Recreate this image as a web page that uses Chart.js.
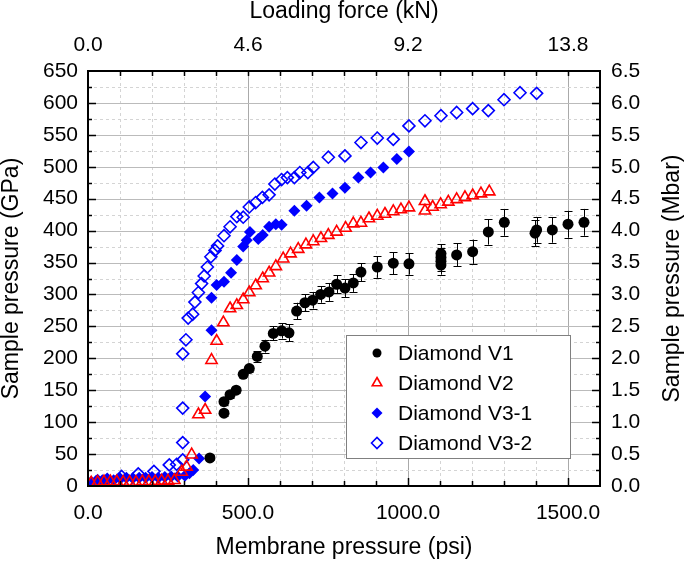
<!DOCTYPE html>
<html>
<head>
<meta charset="utf-8">
<script src="https://cdn.jsdelivr.net/npm/chart.js@4.4.0/dist/chart.umd.min.js"></script>
<style>
  html, body { margin: 0; padding: 0; background: #fff; }
  #wrap { width: 685px; height: 561px; }
</style>
</head>
<body>
<div id="wrap"><canvas id="pressureChart" width="685" height="561"></canvas></div>
<script>
const FONT = '"Liberation Sans", Arial, Helvetica, sans-serif';

// Diamond V1 (black circles, error bars)
let v1Psi = [381, 425, 425, 444, 463, 485, 504, 529, 553, 579, 605, 628, 652, 678, 702, 727, 753, 777, 803, 829, 853, 904, 954, 1003, 1103, 1103, 1103, 1103, 1152, 1202, 1251, 1301, 1397, 1402, 1451, 1500, 1550];
let v1Gpa = [44, 114, 132, 143, 150, 175, 184, 203, 219, 239, 243, 240, 274, 287, 291, 300, 304, 316, 310, 318, 335, 343, 349, 348, 346, 352, 358, 364, 362, 367, 398, 413, 396, 401, 401, 410, 413];
let v1Err = [4, 5, 5, 5, 5, 5, 6, 8, 10, 11, 12, 13, 13, 13, 13, 13, 14, 14, 14, 14, 14, 17, 17, 17, 15, 15, 15, 15, 18, 19, 20, 21, 20, 20, 20, 21, 21];

// Diamond V2 (red open triangles)
let v2Psi = [10, 30, 50, 70, 90, 110, 130, 150, 170, 190, 210, 230, 250, 270, 293, 308, 324, 345, 366, 386, 402, 423, 444, 465, 485, 504, 524, 546, 566, 587, 610, 633, 657, 681, 704, 728, 751, 777, 805, 829, 853, 878, 904, 928, 954, 978, 1003, 1053, 1053, 1077, 1102, 1126, 1152, 1178, 1202, 1228, 1254];
let v2Gpa = [5, 6, 7, 7, 7, 6, 6, 6, 7, 7, 7, 8, 8, 9, 22, 30, 49, 112, 119, 197, 227, 256, 278, 283, 292, 303, 314, 325, 334, 344, 356, 364, 371, 378, 383, 388, 393, 398, 404, 411, 412, 419, 423, 426, 430, 433, 436, 446, 431, 437, 441, 445, 449, 452, 455, 458, 461];

// Diamond V3-1 (blue filled diamonds)
let v31Psi = [10, 25, 45, 60, 80, 100, 120, 140, 160, 180, 200, 220, 240, 260, 280, 303, 317, 329, 347, 366, 386, 386, 402, 425, 447, 465, 485, 496, 506, 532, 546, 566, 587, 605, 645, 683, 723, 764, 803, 845, 883, 923, 965, 1003];
let v31Gpa = [5, 8, 9, 10, 9, 12, 13, 12, 13, 13, 14, 13, 14, 15, 15, 16, 20, 25, 43, 140, 244, 295, 315, 320, 334, 354, 375, 385, 398, 387, 393, 406, 410, 409, 431, 439, 452, 458, 467, 483, 491, 499, 512, 524];

// Diamond V3-2 (blue open diamonds)
let v32Psi = [10, 30, 60, 105, 157, 206, 254, 277, 296, 296, 296, 296, 306, 313, 327, 334, 345, 355, 363, 373, 384, 397, 405, 425, 444, 465, 485, 504, 524, 545, 566, 584, 605, 623, 645, 662, 687, 704, 751, 803, 853, 904, 954, 1003, 1053, 1103, 1152, 1202, 1251, 1300, 1350, 1402];
let v32Gpa = [5, 8, 10, 15, 19, 23, 33, 34, 41, 68, 122, 207, 229, 263, 269, 288, 303, 317, 329, 343, 359, 369, 376, 392, 406, 422, 421, 437, 444, 452, 456, 473, 480, 483, 483, 491, 491, 499, 515, 517, 538, 545, 543, 564, 572, 580, 585, 591, 588, 605, 616, 615];

// axis tick labels
let psiTicks = [0, 500, 1000, 1500];
let knTicks = [0, 4.6, 9.2, 13.8];
let gpaTicks = [0, 50, 100, 150, 200, 250, 300, 350, 400, 450, 500, 550, 600, 650];
let mbarTicks = [0, 0.5, 1, 1.5, 2, 2.5, 3, 3.5, 4, 4.5, 5, 5.5, 6, 6.5];

const PSI_MAX = 1600;
const GPA_MAX = 650;

function toPoints(xs, ys) {
    return xs.map((x, i) => ({ x: x, y: ys[i] }));
}

function setTicks(list) {
    return function (scale) {
        scale.ticks = list.map(v => ({ value: v }));
    };
}

// grid lines behind the data: dashed every 100 psi / 25 GPa, solid every 500 psi / 50 GPa
const gridPlugin = {
    id: 'gridLines',
    beforeDatasetsDraw(chart) {
        const { ctx, chartArea: a, scales } = chart;
        const sx = scales.x, sy = scales.y;
        ctx.save();
        ctx.lineWidth = 1;
        for (let v = 100; v < PSI_MAX; v += 100) {
            const px = Math.round(sx.getPixelForValue(v)) + 0.5;
            const major = v % 500 === 0;
            ctx.strokeStyle = major ? '#aaaaaa' : '#d4d4d4';
            ctx.setLineDash(major ? [] : [3, 3]);
            ctx.beginPath(); ctx.moveTo(px, a.top); ctx.lineTo(px, a.bottom); ctx.stroke();
        }
        for (let v = 25; v < GPA_MAX; v += 25) {
            const py = Math.round(sy.getPixelForValue(v)) + 0.5;
            const major = v % 50 === 0;
            ctx.strokeStyle = major ? '#bbbbbb' : '#d4d4d4';
            ctx.setLineDash(major ? [] : [3, 3]);
            ctx.beginPath(); ctx.moveTo(a.left, py); ctx.lineTo(a.right, py); ctx.stroke();
        }
        ctx.setLineDash([]);

        // error bars for V1
        const meta = chart.getDatasetMeta(0);
        ctx.strokeStyle = '#000';
        ctx.lineWidth = 1;
        meta.data.forEach((pt, i) => {
            const e = v1Err[i];
            const top = sy.getPixelForValue(v1Gpa[i] + e);
            const bot = sy.getPixelForValue(v1Gpa[i] - e);
            const px = Math.round(pt.x) + 0.5;
            ctx.beginPath();
            ctx.moveTo(px, top); ctx.lineTo(px, bot);
            ctx.moveTo(px - 4, Math.round(top) + 0.5); ctx.lineTo(px + 4, Math.round(top) + 0.5);
            ctx.moveTo(px - 4, Math.round(bot) + 0.5); ctx.lineTo(px + 4, Math.round(bot) + 0.5);
            ctx.stroke();
        });
        ctx.restore();
    }
};

function drawMarker(ctx, style, x, y, r, color, filled) {
    ctx.beginPath();
    if (style === 'circle') {
        ctx.arc(x, y, r, 0, Math.PI * 2);
    } else if (style === 'triangle') {
        for (let k = 0; k < 3; k++) {
            const ang = k * 2 * Math.PI / 3;
            const px = x + Math.sin(ang) * r, py = y - Math.cos(ang) * r;
            if (k === 0) ctx.moveTo(px, py); else ctx.lineTo(px, py);
        }
        ctx.closePath();
    } else {
        ctx.moveTo(x - r, y); ctx.lineTo(x, y - r); ctx.lineTo(x + r, y); ctx.lineTo(x, y + r);
        ctx.closePath();
    }
    if (filled) { ctx.fillStyle = color; ctx.fill(); }
    else { ctx.fillStyle = '#fff'; ctx.fill(); ctx.lineWidth = 1.6; ctx.strokeStyle = color; ctx.stroke(); }
}

// frame, inward ticks, right title and the inset legend
const framePlugin = {
    id: 'frameAndLegend',
    afterDraw(chart) {
        const { ctx, chartArea: a, scales } = chart;
        const sx = scales.x, sy = scales.y, sr = scales.yRight;
        ctx.save();
        ctx.strokeStyle = '#000';
        ctx.lineWidth = 1.5;
        ctx.beginPath();
        for (let v = 100; v < PSI_MAX; v += 100) {
            const px = Math.round(sx.getPixelForValue(v)) + 0.5;
            const len = v % 500 === 0 ? 8 : 5;
            ctx.moveTo(px, a.bottom); ctx.lineTo(px, a.bottom - len);
            ctx.moveTo(px, a.top); ctx.lineTo(px, a.top + 5);
        }
        for (let v = 25; v < GPA_MAX; v += 25) {
            const py = Math.round(sy.getPixelForValue(v)) + 0.5;
            const len = v % 50 === 0 ? 8 : 4;
            ctx.moveTo(a.left, py); ctx.lineTo(a.left + len, py);
        }
        for (let v = 0.25; v < 6.5; v += 0.25) {
            const py = Math.round(sr.getPixelForValue(v)) + 0.5;
            const len = Math.abs(v * 2 - Math.round(v * 2)) < 1e-6 ? 8 : 4;
            ctx.moveTo(a.right, py); ctx.lineTo(a.right - len, py);
        }
        ctx.stroke();
        ctx.lineWidth = 2;
        ctx.strokeRect(a.left, a.top, a.right - a.left, a.bottom - a.top);

        // right axis title, reading upward like the left one
        ctx.fillStyle = '#000';
        ctx.font = '23px ' + FONT;
        ctx.textAlign = 'center';
        ctx.textBaseline = 'middle';
        ctx.translate(673, (a.top + a.bottom) / 2);
        ctx.rotate(-Math.PI / 2);
        ctx.fillText('Sample pressure (Mbar)', 0, 0);
        ctx.restore();

        // legend box inside the plot
        ctx.save();
        const bx = 346, by = 335, bw = 224, bh = 123;
        ctx.fillStyle = '#fff';
        ctx.fillRect(bx, by, bw, bh);
        ctx.strokeStyle = '#808080';
        ctx.lineWidth = 1;
        ctx.strokeRect(bx + 0.5, by + 0.5, bw, bh);
        ctx.font = '21px ' + FONT;
        ctx.textAlign = 'left';
        ctx.textBaseline = 'middle';
        chart.data.datasets.forEach((ds, i) => {
            const rowY = by + 18 + i * 30;
            drawMarker(ctx, ds.pointStyle, bx + 31, rowY, ds.pointStyle === 'circle' ? 4.5 : 5.5, ds.borderColor, ds.filled);
            ctx.fillStyle = '#000';
            ctx.fillText(ds.label, bx + 52, rowY + 1);
        });
        ctx.restore();
    }
};

const ctxP = document.getElementById('pressureChart').getContext('2d');
const pressureChart = new Chart(ctxP, {
    type: 'scatter',
    data: {
        datasets: [{
            label: 'Diamond V1',
            data: toPoints(v1Psi, v1Gpa),
            pointStyle: 'circle',
            pointRadius: 5.5,
            backgroundColor: '#000000',
            borderColor: '#000000',
            borderWidth: 0,
            filled: true
        }, {
            label: 'Diamond V2',
            data: toPoints(v2Psi, v2Gpa),
            pointStyle: 'triangle',
            pointRadius: 6.5,
            backgroundColor: 'rgba(255,255,255,0)',
            borderColor: '#ff0000',
            borderWidth: 1.6,
            filled: false
        }, {
            label: 'Diamond V3-1',
            data: toPoints(v31Psi, v31Gpa),
            pointStyle: 'rectRot',
            pointRadius: 6,
            backgroundColor: '#0000ff',
            borderColor: '#0000ff',
            borderWidth: 0,
            filled: true
        }, {
            label: 'Diamond V3-2',
            data: toPoints(v32Psi, v32Gpa),
            pointStyle: 'rectRot',
            pointRadius: 6,
            backgroundColor: 'rgba(255,255,255,0)',
            borderColor: '#0000ff',
            borderWidth: 1.6,
            filled: false
        }]
    },
    options: {
        responsive: false,
        animation: false,
        layout: { padding: 0 },
        scales: {
            x: {
                type: 'linear',
                position: 'bottom',
                min: 0,
                max: PSI_MAX,
                afterBuildTicks: setTicks(psiTicks),
                afterFit: s => { s.height = 75; },
                grid: { display: false, drawTicks: false },
                border: { display: false },
                ticks: {
                    padding: 15,
                    maxRotation: 0,
                    autoSkip: false,
                    color: '#000',
                    font: { family: FONT, size: 21 },
                    callback: v => v.toFixed(1)
                },
                title: {
                    display: true,
                    text: 'Membrane pressure (psi)',
                    color: '#000',
                    font: { family: FONT, size: 23, lineHeight: 1 },
                    padding: { top: 0, bottom: 2 }
                }
            },
            xTop: {
                type: 'linear',
                position: 'top',
                min: 0,
                max: PSI_MAX * 4.6 / 500,
                afterBuildTicks: setTicks(knTicks),
                afterFit: s => { s.height = 71; },
                grid: { display: false, drawTicks: false },
                border: { display: false },
                ticks: {
                    padding: 13,
                    maxRotation: 0,
                    autoSkip: false,
                    color: '#000',
                    font: { family: FONT, size: 21 },
                    callback: v => v.toFixed(1)
                },
                title: {
                    display: true,
                    text: 'Loading force (kN)',
                    color: '#000',
                    font: { family: FONT, size: 23, lineHeight: 1 },
                    padding: { top: 0, bottom: 0 }
                }
            },
            y: {
                type: 'linear',
                position: 'left',
                min: 0,
                max: GPA_MAX,
                afterBuildTicks: setTicks(gpaTicks),
                afterFit: s => { s.width = 88; },
                grid: { display: false, drawTicks: false },
                border: { display: false },
                ticks: {
                    padding: 10,
                    autoSkip: false,
                    color: '#000',
                    font: { family: FONT, size: 21 },
                    callback: v => String(v)
                },
                title: {
                    display: true,
                    text: 'Sample pressure (GPa)',
                    color: '#000',
                    font: { family: FONT, size: 23, lineHeight: 1 },
                    padding: { top: 0, bottom: 0 }
                }
            },
            yRight: {
                type: 'linear',
                position: 'right',
                min: 0,
                max: GPA_MAX / 100,
                afterBuildTicks: setTicks(mbarTicks),
                afterFit: s => { s.width = 85; },
                grid: { display: false, drawTicks: false },
                border: { display: false },
                ticks: {
                    padding: 11,
                    autoSkip: false,
                    color: '#000',
                    font: { family: FONT, size: 21 },
                    callback: v => v.toFixed(1)
                }
            }
        },
        plugins: {
            legend: { display: false },
            tooltip: { enabled: false }
        }
    },
    plugins: [gridPlugin, framePlugin]
});
</script>
</body>
</html>
